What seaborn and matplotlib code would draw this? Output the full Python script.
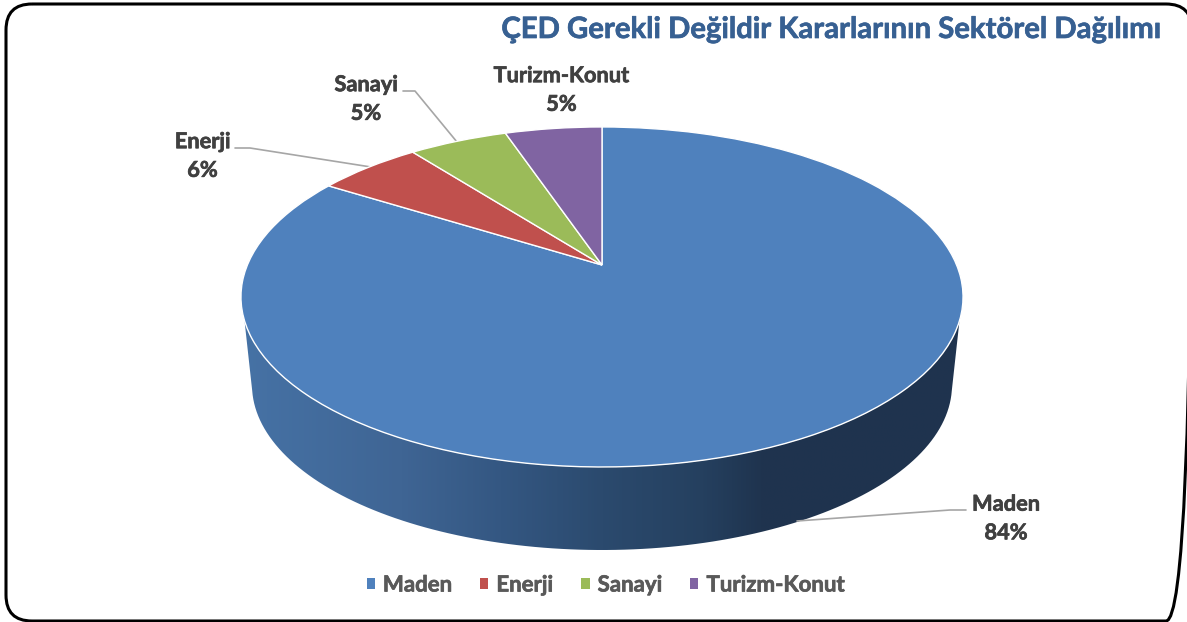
import numpy as np
import matplotlib
matplotlib.use('Agg')
import matplotlib.pyplot as plt
import matplotlib.patheffects as pe
import seaborn as sns
from matplotlib.colors import LinearSegmentedColormap
from matplotlib.patches import FancyBboxPatch, Patch, PathPatch
from matplotlib.path import Path
from matplotlib.transforms import Transform

# --- data ---
SECTORS = ['Maden', 'Enerji', 'Sanayi', 'Turizm-Konut']
SHARES = [83.9, 5.6, 5.3, 5.2]  # labels round these to 84 / 6 / 5 / 5
COLORS = ['#4f81bd', '#c0504d', '#9bbb59', '#8064a2']
TITLE = 'ÇED Gerekli Değildir Kararlarının Sektörel Dağılımı'

FONT = ['Lato', 'DejaVu Sans']


class TiltTransform(Transform):
    """Unit pie circle -> pixel position, tilted with perspective like the 3D pie."""
    input_dims = 2
    output_dims = 2
    is_separable = False

    def transform_non_affine(self, values):
        x, y = values[:, 0], values[:, 1]
        w = 1 + 0.188 * y
        return np.column_stack([602 + 354.6 * x / w, 265 - 164 * y / w])


def arc(cx, cy, rx, ry, start, end, n=120):
    t = np.radians(np.linspace(start, end, n))
    return np.column_stack([cx + rx * np.cos(t), cy + ry * np.sin(t)])


def heavier(color, width=0.5):
    return [pe.withStroke(linewidth=width, foreground=color)]


sns.set_style('white')
plt.rcParams['font.family'] = FONT

fig = plt.figure(figsize=(11.87, 6.22), dpi=100, facecolor='white')
ax = fig.add_axes([0, 0, 1, 1])

# top of the pie
wedges, _ = ax.pie(SHARES, colors=sns.color_palette(COLORS), startangle=90, counterclock=False,
                   wedgeprops={'edgecolor': 'white', 'linewidth': 1.0, 'zorder': 3})
tilt = TiltTransform()
for w in wedges:
    w.set_transform(tilt + ax.transData)

# side wall with the horizontal shading
top_edge = arc(602, 297, 361, 170, 172, 8)
bottom_edge = arc(602, 385, 350, 165, 2, 178)
wall_path = Path(np.vstack([top_edge, bottom_edge, top_edge[:1]]), closed=True)
wall_cmap = LinearSegmentedColormap.from_list('wall', [
    (0.00, '#4672a5'), (0.22, '#3f6594'), (0.36, '#345782'), (0.50, '#2b4a6e'),
    (0.64, '#25405f'), (0.72, '#1f344f'), (1.00, '#1f334e')])
grad = ax.imshow(np.linspace(0, 1, 512)[None, :], extent=(242, 963, 552, 300), cmap=wall_cmap,
                 aspect='auto', zorder=2)
grad.set_clip_path(PathPatch(wall_path, transform=ax.transData))

ax.set_xlim(0, 1187)
ax.set_ylim(622, 0)
ax.set_aspect('auto')
ax.axis('off')

# frame
ax.add_patch(FancyBboxPatch((6, 4), 1186, 617, boxstyle='round,pad=0,rounding_size=26',
                            fc='none', ec='black', lw=2.2, zorder=5))

ax.text(1160, 30, TITLE, ha='right', va='center', fontsize=21.1, fontweight='bold', color='#376092',
        path_effects=heavier('#376092'))

# data labels + leader lines
label_pos = [(1006, 518.5), (202.5, 156), (366, 99), (561.5, 90)]
leaders = [[(966, 510), (950, 510), (797, 521)],
           [(235, 148), (250, 148), (371, 167)],
           [(403, 91), (415, 91), (457, 142)],
           None]
for name, share, pos, lead in zip(SECTORS, SHARES, label_pos, leaders):
    ax.text(pos[0], pos[1], f'{name}\n{share:.0f}%', ha='center', va='center', fontsize=15.7,
            fontweight='bold', color='#404040', linespacing=1.45, path_effects=heavier('#404040'))
    if lead:
        ax.plot(*zip(*lead), color='#a6a6a6', lw=1.2, zorder=2.5)

# legend
handles = [Patch(fc=c, ec='none') for c in COLORS]
leg = ax.legend(handles, SECTORS, loc='center', bbox_to_anchor=(606 / 1187, 1 - 585 / 622), ncol=4, frameon=False,
                handlelength=0.37, handleheight=0.37, handletextpad=0.36, columnspacing=1.25,
                prop={'family': FONT, 'weight': 'bold', 'size': 16}, labelcolor='#595959')
for t in leg.get_texts():
    t.set_path_effects(heavier('#595959'))

fig.savefig('out.png', dpi=100, facecolor='white')
